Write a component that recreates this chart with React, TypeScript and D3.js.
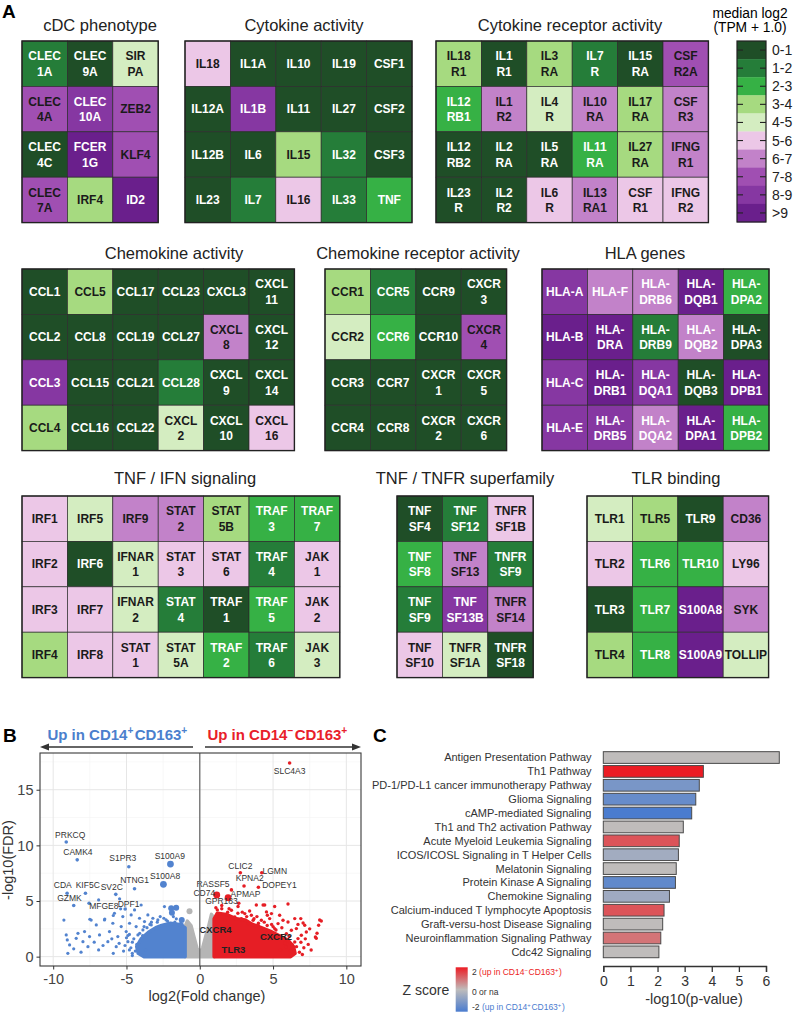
import React, { useEffect, useRef } from "react";
import * as d3 from "d3";

// ---- heatmap data (bin index: 0 = "0-1" ... 9 = ">9") ----
const binLabels = ["0-1", "1-2", "2-3", "3-4", "4-5", "5-6", "6-7", "7-8", "8-9", ">9"];

const cdcGenes = ["CLEC\n1A", "CLEC\n9A", "SIR\nPA", "CLEC\n4A", "CLEC\n10A", "ZEB2", "CLEC\n4C", "FCER\n1G", "KLF4", "CLEC\n7A", "IRF4", "ID2"];
const cdcBins = [1, 0, 4, 7, 8, 7, 0, 9, 7, 7, 3, 9];

const cytoGenes = ["IL18", "IL1A", "IL10", "IL19", "CSF1", "IL12A", "IL1B", "IL11", "IL27", "CSF2", "IL12B", "IL6", "IL15", "IL32", "CSF3", "IL23", "IL7", "IL16", "IL33", "TNF"];
const cytoBins = [5, 0, 0, 0, 0, 0, 8, 0, 0, 0, 0, 0, 3, 1, 0, 0, 1, 5, 1, 2];

const cytoRGenes = ["IL18\nR1", "IL1\nR1", "IL3\nRA", "IL7\nR", "IL15\nRA", "CSF\nR2A", "IL12\nRB1", "IL1\nR2", "IL4\nR", "IL10\nRA", "IL17\nRA", "CSF\nR3", "IL12\nRB2", "IL2\nRA", "IL5\nRA", "IL11\nRA", "IL27\nRA", "IFNG\nR1", "IL23\nR", "IL2\nR2", "IL6\nR", "IL13\nRA1", "CSF\nR1", "IFNG\nR2"];
const cytoRBins = [3, 0, 3, 1, 0, 7, 2, 6, 4, 6, 3, 6, 0, 0, 0, 2, 3, 6, 0, 0, 5, 6, 5, 5];

const chemoGenes = ["CCL1", "CCL5", "CCL17", "CCL23", "CXCL3", "CXCL\n11", "CCL2", "CCL8", "CCL19", "CCL27", "CXCL\n8", "CXCL\n12", "CCL3", "CCL15", "CCL21", "CCL28", "CXCL\n9", "CXCL\n14", "CCL4", "CCL16", "CCL22", "CXCL\n2", "CXCL\n10", "CXCL\n16"];
const chemoBins = [0, 3, 0, 0, 0, 0, 0, 0, 0, 0, 6, 0, 8, 0, 0, 1, 0, 0, 3, 0, 0, 4, 0, 5];

const chemoRGenes = ["CCR1", "CCR5", "CCR9", "CXCR\n3", "CCR2", "CCR6", "CCR10", "CXCR\n4", "CCR3", "CCR7", "CXCR\n1", "CXCR\n5", "CCR4", "CCR8", "CXCR\n2", "CXCR\n6"];
const chemoRBins = [3, 1, 0, 0, 4, 2, 0, 7, 0, 0, 0, 0, 0, 0, 0, 0];

const hlaGenes = ["HLA-A", "HLA-F", "HLA-\nDRB6", "HLA-\nDQB1", "HLA-\nDPA2", "HLA-B", "HLA-\nDRA", "HLA-\nDRB9", "HLA-\nDQB2", "HLA-\nDPA3", "HLA-C", "HLA-\nDRB1", "HLA-\nDQA1", "HLA-\nDQB3", "HLA-\nDPB1", "HLA-E", "HLA-\nDRB5", "HLA-\nDQA2", "HLA-\nDPA1", "HLA-\nDPB2"];
const hlaBins = [8, 6, 6, 9, 2, 9, 9, 1, 6, 0, 8, 9, 8, 0, 9, 8, 8, 6, 9, 2];

const ifnGenes = ["IRF1", "IRF5", "IRF9", "STAT\n2", "STAT\n5B", "TRAF\n3", "TRAF\n7", "IRF2", "IRF6", "IFNAR\n1", "STAT\n3", "STAT\n6", "TRAF\n4", "JAK\n1", "IRF3", "IRF7", "IFNAR\n2", "STAT\n4", "TRAF\n1", "TRAF\n5", "JAK\n2", "IRF4", "IRF8", "STAT\n1", "STAT\n5A", "TRAF\n2", "TRAF\n6", "JAK\n3"];
const ifnBins = [5, 4, 6, 6, 3, 2, 2, 5, 0, 4, 5, 5, 1, 5, 5, 5, 4, 1, 0, 2, 5, 3, 5, 5, 4, 2, 1, 4];

const tnfGenes = ["TNF\nSF4", "TNF\nSF12", "TNFR\nSF1B", "TNF\nSF8", "TNF\nSF13", "TNFR\nSF9", "TNF\nSF9", "TNF\nSF13B", "TNFR\nSF14", "TNF\nSF10", "TNFR\nSF1A", "TNFR\nSF18"];
const tnfBins = [0, 1, 5, 2, 6, 1, 1, 8, 6, 5, 4, 0];

const tlrGenes = ["TLR1", "TLR5", "TLR9", "CD36", "TLR2", "TLR6", "TLR10", "LY96", "TLR3", "TLR7", "S100A8", "SYK", "TLR4", "TLR8", "S100A9", "TOLLIP"];
const tlrBins = [4, 3, 0, 6, 5, 2, 2, 5, 0, 2, 9, 6, 3, 2, 9, 4];

// ---- volcano data: [log2FC, -log10 FDR] ----
const labeledGenes: [string, number, number][] = [
  ["SLC4A3", 6.13, 17.4], ["PRKCQ", -9.11, 10.3], ["CAMK4", -8.36, 8.7], ["S1PR3", -4.84, 8.08],
  ["S100A9", -2.0, 8.32], ["S100A8", -2.48, 6.5], ["NTNG1", -4.45, 6.1], ["SV2C", -5.73, 5.6],
  ["KIF5C", -7.8, 5.7], ["CDA", -9.05, 5.7], ["GZMK", -8.6, 4.6], ["MFGE8", -7.55, 4.8],
  ["DPF1", -5.09, 4.28], ["CLIC2", 2.77, 7.54], ["LGMN", 4.23, 7.54], ["KPNA2", 3.02, 6.35],
  ["DOPEY1", 4.0, 6.23], ["RASSF5", 2.16, 6.0], ["CD74", 1.16, 5.54], ["APMAP", 1.93, 5.3],
  ["GPR183", 2.66, 4.8],
];
const bigGenes = ["S100A9", "S100A8", "CD74", "APMAP"];
const boldGenes: [string, number, number][] = [["CXCR4", 1.07, 2.4], ["TLR3", 2.3, 0.6], ["CXCR2", 5.2, 1.8]];

const blueCloud = [[-1.0, 0.0], [-1.0, 2.6], [-1.4, 2.9], [-2.0, 3.0], [-2.6, 2.8], [-3.0, 2.6], [-3.5, 2.2], [-4.0, 1.6], [-4.3, 0.9], [-4.2, 0.3], [-3.8, 0.0]];
const redCloud = [[0.98, 0.0], [0.98, 3.4], [1.2, 3.9], [1.8, 3.8], [2.5, 3.4], [3.1, 3.3], [3.6, 2.9], [4.2, 2.6], [4.8, 2.3], [5.4, 1.9], [6.0, 1.5], [6.4, 0.9], [6.5, 0.3], [6.2, 0.0]];
const grayCloud = [[-1.0, 0.0], [-1.0, 2.7], [-0.85, 3.2], [-0.6, 2.8], [-0.4, 1.8], [-0.2, 0.8], [0, 0.3], [0.2, 0.8], [0.4, 1.8], [0.6, 2.7], [0.8, 3.8], [1.0, 3.4], [1.0, 0.0]];

const bluePoints = [
  [-9.27, 3.29], [-9.11, 1.95], [-9.04, 1.5], [-8.88, 1.05], [-8.6, 0.7], [-8.43, 1.65], [-8.31, 2.1], [-7.97, 1.35],
  [-7.86, 2.25], [-7.63, 0.9], [-7.41, 3.29], [-7.52, 1.8], [-7.06, 2.85], [-6.84, 1.95], [-6.5, 3.3], [-6.27, 1.35],
  [-6.16, 2.25], [-5.93, 3.0], [-5.82, 3.9], [-5.59, 1.8], [-5.36, 2.7], [-5.25, 3.6], [-5.02, 2.25], [-4.9, 1.35],
  [-4.79, 3.0], [-4.68, 3.75], [-4.45, 4.2], [-4.34, 2.7], [-4.22, 1.95], [-4.11, 3.45], [-4.0, 4.64], [-3.88, 2.4],
  [-3.77, 3.15], [-3.54, 3.75], [-3.31, 2.85], [-3.2, 3.45], [-2.97, 2.55], [-2.86, 3.3], [-2.45, 3.45], [-2.41, 4.5],
  [-7.5, 3.36], [-6.48, 3.38], [-5.9, 3.7], [-6.9, 0.6], [-5.7, 0.9], [-5.2, 0.5], [-4.7, 0.8], [-4.5, 1.6],
  [-6.0, 1.6], [-5.5, 1.2], [-4.8, 2.0], [-4.6, 0.3], [-5.9, 0.3], [-6.6, 1.0], [-7.2, 1.3], [-8.1, 0.4],
  [-9.0, 0.3], [-3.7, 0.6], [-3.9, 1.9], [-4.3, 1.1], [-3.6, 2.6], [-3.3, 3.1], [-2.7, 3.6], [-2.2, 3.2],
  [-1.6, 3.4], [-1.3, 3.0], [-1.8, 3.6], [-5.4, 4.3], [-6.9, 5.1], [-5.47, 5.2], [-4.6, 0.1], [-5.0, 1.7],
  [-4.4, 0.5], [-4.6, 1.3], [-4.1, 2.1], [-3.8, 2.7], [-3.4, 2.9], [-2.9, 3.1], [-2.3, 3.3], [-1.7, 3.1],
  [-1.2, 2.9], [-4.8, 0.6], [-5.1, 1.0], [-4.9, 1.9],
];
const blueBig = [[-1.95, 4.34], [-1.61, 4.4], [-1.9, 3.95], [-1.23, 3.3]];

const redPoints = [
  [3.86, 4.64], [4.32, 4.64], [5.11, 4.5], [6.02, 4.73], [3.07, 3.87], [3.52, 3.72], [4.55, 4.02], [4.61, 3.72],
  [4.89, 3.87], [5.45, 3.72], [5.68, 3.27], [6.02, 3.12], [6.48, 3.42], [6.89, 3.42], [7.05, 3.03], [7.16, 2.82],
  [8.11, 2.82], [8.29, 3.21], [7.89, 1.77], [7.27, 2.22], [6.93, 1.92], [6.7, 1.62], [6.48, 1.32], [6.25, 2.37],
  [5.91, 2.07], [6.59, 2.52], [5.34, 2.97], [5.11, 2.52], [4.77, 3.42], [4.2, 3.27], [3.98, 2.82], [3.64, 3.27],
  [3.3, 2.97], [2.84, 3.42], [2.39, 3.57], [1.93, 3.72], [1.7, 3.27], [2.16, 4.17], [1.36, 3.87], [2.61, 4.5],
  [4.43, 4.64], [8.18, 3.3], [7.95, 1.65], [7.4, 1.1], [7.1, 0.8], [6.8, 0.4], [7.6, 0.6], [5.8, 1.2],
  [6.2, 0.5], [5.6, 2.6], [4.9, 2.9], [3.9, 3.6], [2.9, 4.0], [2.0, 4.3], [1.5, 4.6], [1.2, 4.2],
  [3.4, 4.1], [7.0, 0.2], [7.5, 2.5], [6.7, 2.9], [8.0, 2.1],
  [5.5, 0.6], [5.9, 0.9], [6.1, 1.8], [6.3, 1.1], [5.2, 2.4], [4.6, 2.8], [4.0, 3.0], [3.2, 3.6],
  [2.6, 3.9], [1.9, 4.0], [1.5, 4.3], [6.6, 0.9], [6.9, 1.3], [7.2, 1.6], [5.0, 2.7], [4.4, 3.1],
  [3.7, 3.4], [1.1, 4.4],
];
const grayBig = [[-0.7, 4.07]];

// ---- pathway data ----
const pathways = [
  "Antigen Presentation Pathway", "Th1 Pathway", "PD-1/PD-L1 cancer immunotherapy Pathway", "Glioma Signaling",
  "cAMP-mediated Signaling", "Th1 and Th2 activation Pathway", "Acute Myeloid Leukemia Signaling",
  "ICOS/ICOSL Signaling in T Helper Cells", "Melatonin Signaling", "Protein Kinase A Signaling", "Chemokine Signaling",
  "Calcium-induced T lymphocyte Apoptosis", "Graft-versu-host Disease Signaling", "Neuroinflammation Signaling Pathway",
  "Cdc42 Signaling",
];
const pathwayLogP = [6.49, 3.69, 3.54, 3.41, 3.26, 2.95, 2.8, 2.77, 2.69, 2.66, 2.44, 2.24, 2.19, 2.12, 2.05];
const pathwayZ = [0, 2, -1.2, -1.5, -2, 0, 1.3, -0.5, 0, -1.6, -0.55, 1.3, 0, 0.9, 0];

const binColor = d3.scaleOrdinal<number, string>().domain(d3.range(10))
  .range(["#1f4e27", "#257d39", "#36b145", "#a6da80", "#d4edc1", "#ecc7e7", "#c282c9", "#a04fb2", "#8637a2", "#6a1f8c"]);

const FONT = "'Liberation Sans', Arial, sans-serif";
const CELL = 45.4;

const panels = [
  { title: "cDC phenotype", genes: cdcGenes, bins: cdcBins, cols: 3, x: 22, y: 41, tx: 100, ty: 31 },
  { title: "Cytokine activity", genes: cytoGenes, bins: cytoBins, cols: 5, x: 185, y: 41, tx: 304, ty: 31 },
  { title: "Cytokine receptor activity", genes: cytoRGenes, bins: cytoRBins, cols: 6, x: 436, y: 41, tx: 570, ty: 31 },
  { title: "Chemokine activity", genes: chemoGenes, bins: chemoBins, cols: 6, x: 22, y: 269, tx: 174, ty: 259 },
  { title: "Chemokine receptor activity", genes: chemoRGenes, bins: chemoRBins, cols: 4, x: 325, y: 269, tx: 418, ty: 259 },
  { title: "HLA genes", genes: hlaGenes, bins: hlaBins, cols: 5, x: 542, y: 269, tx: 645, ty: 259, allWhite: true },
  { title: "TNF / IFN signaling", genes: ifnGenes, bins: ifnBins, cols: 7, x: 22, y: 496, tx: 185, ty: 484 },
  { title: "TNF / TNFR superfamily", genes: tnfGenes, bins: tnfBins, cols: 3, x: 397, y: 496, tx: 465, ty: 484 },
  { title: "TLR binding", genes: tlrGenes, bins: tlrBins, cols: 4, x: 587, y: 496, tx: 676, ty: 484 },
];

// label nudges in px relative to the point (layout only)
const labelNudge: Record<string, [number, number]> = {
  SLC4A3: [0, 10.5], PRKCQ: [4, -4.5], CAMK4: [0.7, -4.5], S1PR3: [-6, -5.5], S100A9: [-0.7, -5],
  S100A8: [1.6, -5], NTNG1: [0, -5.5], SV2C: [-4, -4.5], KIF5C: [2.3, -5], CDA: [-4.3, -5],
  GZMK: [-4.3, -4.3], MFGE8: [14.7, 6], DPF1: [3.4, -2.3], CLIC2: [0, -3.8], LGMN: [13, 1.5],
  KPNA2: [5.7, -5], DOPEY1: [21, 1], RASSF5: [-18.4, -3.3], CD74: [-12.5, 0.7], APMAP: [17.4, -1],
  GPR183: [-17.3, 0.7],
};

function supText(sel: any, parts: [string, boolean][], size: number) {
  parts.forEach(([t, sup]) => {
    if (sup) {
      sel.append("tspan").attr("dy", -size * 0.38).style("font-size", size * 0.68 + "px").text(t);
      sel.append("tspan").attr("dy", size * 0.38).style("font-size", size + "px").text("\u200a");
    } else {
      sel.append("tspan").text(t);
    }
  });
}

function drawHeatmaps(svg: any) {
  svg.append("text").attr("x", 2).attr("y", 18).style("font-size", "19px").style("font-weight", "bold").text("A");

  panels.forEach((p: any) => {
    const rows = p.genes.length / p.cols;
    const xs = d3.scaleBand<number>().domain(d3.range(p.cols)).range([p.x, p.x + p.cols * CELL]);
    const ys = d3.scaleBand<number>().domain(d3.range(rows)).range([p.y, p.y + rows * CELL]);
    const g = svg.append("g");

    g.append("text").attr("x", p.tx).attr("y", p.ty).attr("text-anchor", "middle")
      .style("font-size", "16.5px").attr("fill", "#222").text(p.title);

    const cellData = p.genes.map((gene: string, i: number) => ({ gene, bin: p.bins[i], c: i % p.cols, r: Math.floor(i / p.cols) }));
    const cells = g.selectAll("g.cell").data(cellData).join("g").attr("class", "cell");
    cells.append("rect")
      .attr("x", (d: any) => xs(d.c)).attr("y", (d: any) => ys(d.r))
      .attr("width", xs.bandwidth()).attr("height", ys.bandwidth())
      .attr("fill", (d: any) => binColor(d.bin)).attr("stroke", "#2d2d2d").attr("stroke-width", 0.7);

    cells.each(function (this: any, d: any) {
      const lines = d.gene.split("\n");
      const cx = (xs(d.c) as number) + xs.bandwidth() / 2;
      const cy = (ys(d.r) as number) + ys.bandwidth() / 2;
      const white = p.allWhite || d.bin <= 2 || d.bin >= 8;
      lines.forEach((ln: string, k: number) => {
        const off = lines.length === 1 ? 0 : (k === 0 ? -7.7 : 7.7);
        d3.select(this).append("text")
          .attr("x", cx).attr("y", cy + off + 4.3).attr("text-anchor", "middle")
          .style("font-size", "12px").style("font-weight", "bold")
          .attr("fill", white ? "#ffffff" : "#1a1a1a").text(ln);
      });
    });

    g.append("rect").attr("x", p.x).attr("y", p.y).attr("width", p.cols * CELL).attr("height", rows * CELL)
      .attr("fill", "none").attr("stroke", "#222").attr("stroke-width", 1.4);
  });

  // legend
  const lg = svg.append("g");
  const by = d3.scaleBand<string>().domain(binLabels).range([41, 222]);
  lg.append("text").attr("x", 750).attr("y", 17.5).attr("text-anchor", "middle").style("font-size", "13.8px").text("median log2");
  lg.append("text").attr("x", 750).attr("y", 32).attr("text-anchor", "middle").style("font-size", "13.8px").text("(TPM + 1.0)");
  lg.selectAll("rect.bin").data(binLabels).join("rect").attr("class", "bin")
    .attr("x", 737).attr("y", (d: string) => by(d)).attr("width", 29).attr("height", by.bandwidth() + 0.3)
    .attr("fill", (d: string, i: number) => binColor(i));
  lg.append("rect").attr("x", 737).attr("y", 41).attr("width", 29).attr("height", 181)
    .attr("fill", "none").attr("stroke", "#222").attr("stroke-width", 1.2);
  binLabels.forEach((b) => {
    const yy = (by(b) as number) + by.bandwidth() / 2;
    lg.append("line").attr("x1", 737).attr("x2", 743).attr("y1", yy).attr("y2", yy).attr("stroke", "#222").attr("stroke-width", 1.1);
    lg.append("line").attr("x1", 760).attr("x2", 766).attr("y1", yy).attr("y2", yy).attr("stroke", "#222").attr("stroke-width", 1.1);
    lg.append("text").attr("x", 772).attr("y", yy).attr("dy", "0.36em").style("font-size", "14px").attr("fill", "#222").text(b);
  });
}

function drawVolcano(svg: any) {
  const x = d3.scaleLinear().domain([-10.9, 11]).range([40, 361]);
  const y = d3.scaleLinear().domain([-0.84, 18.3]).range([966, 753]);
  const g = svg.append("g");

  g.append("text").attr("x", 3).attr("y", 742).style("font-size", "19px").style("font-weight", "bold").text("B");

  // arrows + headers
  g.append("line").attr("x1", 46).attr("x2", 193).attr("y1", 747).attr("y2", 747).attr("stroke", "#333").attr("stroke-width", 1.3);
  g.append("path").attr("d", "M40,747 L49,743.5 L49,750.5 Z").attr("fill", "#333");
  g.append("line").attr("x1", 205).attr("x2", 355).attr("y1", 747).attr("y2", 747).attr("stroke", "#333").attr("stroke-width", 1.3);
  g.append("path").attr("d", "M361,747 L352,743.5 L352,750.5 Z").attr("fill", "#333");
  const tb = g.append("text").attr("x", 118).attr("y", 740).attr("text-anchor", "middle")
    .style("font-size", "15px").style("font-weight", "bold").attr("fill", "#4b7fcd");
  supText(tb, [["Up in CD14", false], ["+", true], ["CD163", false], ["+", true]], 15);
  const tr = g.append("text").attr("x", 278).attr("y", 740).attr("text-anchor", "middle")
    .style("font-size", "15px").style("font-weight", "bold").attr("fill", "#e8202a");
  supText(tr, [["Up in CD14", false], ["\u2212", true], ["CD163", false], ["+", true]], 15);

  // panel + grid
  g.append("rect").attr("x", 40).attr("y", 753).attr("width", 321).attr("height", 213).attr("fill", "#fff");
  [-7.5, -2.5, 2.5, 7.5].forEach((v) => g.append("line").attr("x1", x(v)).attr("x2", x(v)).attr("y1", 753).attr("y2", 966).attr("stroke", "#f3f3f3").attr("stroke-width", 0.6));
  [2.5, 7.5, 12.5, 17.5].forEach((v) => g.append("line").attr("x1", 40).attr("x2", 361).attr("y1", y(v)).attr("y2", y(v)).attr("stroke", "#f3f3f3").attr("stroke-width", 0.6));
  [-10, -5, 0, 5, 10].forEach((v) => g.append("line").attr("x1", x(v)).attr("x2", x(v)).attr("y1", 753).attr("y2", 966).attr("stroke", "#e6e6e6").attr("stroke-width", 1));
  [0, 5, 10, 15].forEach((v) => g.append("line").attr("x1", 40).attr("x2", 361).attr("y1", y(v)).attr("y2", y(v)).attr("stroke", "#e6e6e6").attr("stroke-width", 1));

  svg.append("defs").append("clipPath").attr("id", "volclip").append("rect")
    .attr("x", 40).attr("y", 753).attr("width", 321).attr("height", 213);
  const pg = g.append("g").attr("clip-path", "url(#volclip)");

  const line = d3.line<number[]>().x((d) => x(d[0])).y((d) => y(d[1])).curve(d3.curveLinearClosed);
  const clouds: [number[][], string][] = [[grayCloud, "#b5b5b5"], [blueCloud, "#5283cf"], [redCloud, "#e61e25"]];
  clouds.forEach(([pts, col]) => {
    pg.append("path").attr("d", line(pts)).attr("fill", col).attr("stroke", col)
      .attr("stroke-width", 3.5).attr("stroke-linejoin", "round");
  });

  const dots = (pts: number[][], col: string, r: number) =>
    pg.append("g").selectAll("circle").data(pts).join("circle")
      .attr("cx", (d: number[]) => x(d[0])).attr("cy", (d: number[]) => y(d[1])).attr("r", r).attr("fill", col);
  dots(bluePoints, "#5283cf", 1.6);
  dots(redPoints, "#e61e25", 1.7);
  dots(blueBig, "#5283cf", 3);
  dots(grayBig, "#b5b5b5", 3);

  labeledGenes.forEach(([gene, fc, fdr]) => {
    const big = bigGenes.includes(gene);
    pg.append("circle").attr("cx", x(fc)).attr("cy", y(fdr)).attr("r", big ? 3.4 : 1.8)
      .attr("fill", fc < 0 ? "#5283cf" : "#e61e25");
  });
  labeledGenes.forEach(([gene, fc, fdr]) => {
    const [dx, dy] = labelNudge[gene];
    pg.append("text").attr("x", x(fc) + dx).attr("y", y(fdr) + dy).attr("text-anchor", "middle")
      .style("font-size", "8.5px").attr("fill", "#333").text(gene);
  });
  boldGenes.forEach(([gene, fc, fdr]) => {
    pg.append("text").attr("x", x(fc)).attr("y", y(fdr)).attr("dy", "0.35em").attr("text-anchor", "middle")
      .style("font-size", "9.5px").style("font-weight", "bold").attr("fill", "#222").text(gene);
  });

  g.append("line").attr("x1", x(0)).attr("x2", x(0)).attr("y1", 753).attr("y2", 966).attr("stroke", "#707070").attr("stroke-width", 1.3);
  g.append("rect").attr("x", 40).attr("y", 753).attr("width", 321).attr("height", 213)
    .attr("fill", "none").attr("stroke", "#3a3a3a").attr("stroke-width", 1.1);

  const xAxis = g.append("g").attr("transform", "translate(0,966)")
    .call(d3.axisBottom(x).tickValues([-10, -5, 0, 5, 10]).tickSize(3.5).tickPadding(4).tickFormat(d3.format("d")));
  const yAxis = g.append("g").attr("transform", "translate(40,0)")
    .call(d3.axisLeft(y).tickValues([0, 5, 10, 15]).tickSize(3.5).tickPadding(3));
  [xAxis, yAxis].forEach((a: any) => {
    a.select(".domain").remove();
    a.selectAll("line").attr("stroke", "#333");
    a.selectAll("text").style("font-size", "14.5px").style("font-family", FONT).attr("fill", "#444");
  });
  xAxis.selectAll("text").text((d: number) => (d < 0 ? "-" + Math.abs(d) : String(d)));

  g.append("text").attr("x", 207).attr("y", 1001).attr("text-anchor", "middle").style("font-size", "14.5px").attr("fill", "#333").text("log2(Fold change)");
  g.append("text").attr("transform", "translate(13,860) rotate(-90)").attr("text-anchor", "middle").style("font-size", "14.5px").attr("fill", "#333").text("-log10(FDR)");
}

function drawPathways(svg: any) {
  const g = svg.append("g");
  g.append("text").attr("x", 373).attr("y", 742).style("font-size", "19px").style("font-weight", "bold").text("C");

  const x = d3.scaleLinear().domain([0, 6]).range([603.3, 766]);
  const yb = d3.scaleBand<string>().domain(pathways).range([749.5, 959.9]).padding(0.157);
  const zCol = d3.scaleLinear<string>().domain([-2, 0, 2]).range(["#4a7ccf", "#bfbcbb", "#ec1c24"]);

  g.selectAll("rect.bar").data(pathways).join("rect").attr("class", "bar")
    .attr("x", x(0)).attr("y", (d: string) => yb(d))
    .attr("width", (d: string, i: number) => x(pathwayLogP[i]) - x(0)).attr("height", yb.bandwidth())
    .attr("fill", (d: string, i: number) => zCol(pathwayZ[i])).attr("stroke", "#4a4a4a").attr("stroke-width", 1);

  g.selectAll("text.lab").data(pathways).join("text").attr("class", "lab")
    .attr("x", 591.5).attr("y", (d: string) => (yb(d) as number) + yb.bandwidth() / 2).attr("dy", "0.36em")
    .attr("text-anchor", "end").style("font-size", "11px").attr("fill", "#333").text((d: string) => d);

  const ax = g.append("g").attr("transform", "translate(0,966)")
    .call(d3.axisBottom(x).ticks(6).tickSize(6).tickPadding(4));
  ax.select(".domain").attr("stroke", "#333").attr("stroke-width", 1.3);
  ax.selectAll("line").attr("stroke", "#333").attr("stroke-width", 1.3);
  ax.selectAll("text").style("font-size", "14px").style("font-family", FONT).attr("fill", "#333");
  g.append("text").attr("x", 694).attr("y", 1004).attr("text-anchor", "middle").style("font-size", "14.5px").attr("fill", "#333").text("-log10(p-value)");

  // z-score legend
  const grad = svg.append("defs").append("linearGradient").attr("id", "zgrad").attr("x1", 0).attr("x2", 0).attr("y1", 0).attr("y2", 1);
  [[0, "#ec1c24"], [0.5, "#bfbcbb"], [1, "#4a7ccf"]].forEach(([o, c]) => grad.append("stop").attr("offset", o as number).attr("stop-color", c as string));
  g.append("rect").attr("x", 455.7).attr("y", 967.3).attr("width", 12).attr("height", 44.4).attr("fill", "url(#zgrad)");
  g.append("text").attr("x", 402.5).attr("y", 995).style("font-size", "14px").attr("fill", "#333").text("Z score");

  const t2 = g.append("text").attr("x", 472).attr("y", 975).style("font-size", "8.5px").attr("fill", "#333");
  t2.append("tspan").text("2 ");
  const t2r = t2.append("tspan").attr("fill", "#ec1c24");
  supText(t2r, [["(up in CD14", false], ["\u2212", true], ["CD163", false], ["+", true], [")", false]], 8.5);
  g.append("text").attr("x", 472).attr("y", 995).style("font-size", "8.5px").attr("fill", "#333").text("0 or na");
  const t3 = g.append("text").attr("x", 472).attr("y", 1010).style("font-size", "8.5px").attr("fill", "#333");
  t3.append("tspan").text("-2 ");
  const t3b = t3.append("tspan").attr("fill", "#4a7ccf");
  supText(t3b, [["(up in CD14", false], ["+", true], ["CD163", false], ["+", true], [")", false]], 8.5);
}

export default function App() {
  const ref = useRef<SVGSVGElement>(null);

  useEffect(() => {
    const svg = d3.select(ref.current);
    svg.selectAll("*").remove();
    drawHeatmaps(svg);
    drawVolcano(svg);
    drawPathways(svg);
  }, []);

  return (
    <svg
      ref={ref}
      width={793}
      height={1013}
      style={{ position: "absolute", left: 0, top: 0, background: "#fff", fontFamily: FONT }}
    />
  );
}
